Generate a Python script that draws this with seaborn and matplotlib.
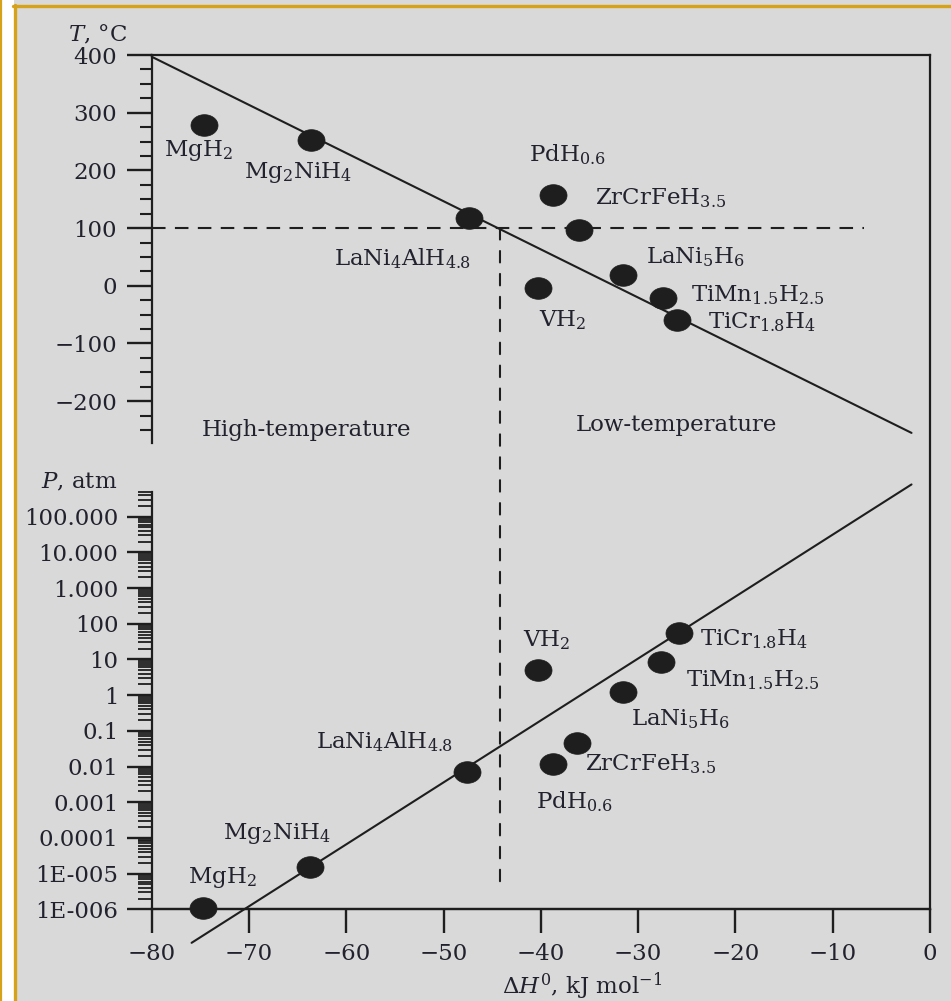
import numpy as np
import matplotlib
matplotlib.use("Agg")
import matplotlib.pyplot as plt
from matplotlib.path import Path
from matplotlib.patches import ConnectionPatch
from matplotlib.lines import Line2D
from matplotlib.ticker import (MultipleLocator, FixedLocator, FixedFormatter,
                               LogLocator, NullFormatter, NullLocator)
import seaborn as sns

# ---------------------------------------------------------------- data
hydrides = ["MgH$_2$", "Mg$_2$NiH$_4$", "LaNi$_4$AlH$_{4.8}$", "PdH$_{0.6}$",
            "ZrCrFeH$_{3.5}$", "LaNi$_5$H$_6$", "TiMn$_{1.5}$H$_{2.5}$",
            "TiCr$_{1.8}$H$_4$", "VH$_2$"]

# enthalpy of formation (kJ/mol) and temperature for 1 atm (deg C)
dH_T = [-74.6, -63.6, -47.4, -38.7, -36.1, -31.6, -27.4, -26.0, -40.3]
T_eq = [279, 253, 117, 157, 97, 19, -22, -60, -3]

# enthalpy of formation (kJ/mol) and equilibrium pressure at 25 deg C (atm)
dH_P = [-74.7, -63.7, -47.6, -38.7, -36.3, -31.6, -27.7, -25.8, -40.3]
P_eq = [1.07e-6, 1.5e-5, 0.0071, 0.0115, 0.045, 1.25, 8.6, 54.0, 5.0]

# trend lines
trend_dH_T = [-80.0, -1.9]
trend_T = [397.0, -255.0]
trend_dH_P = [-75.9, -1.9]
trend_P = [1.15e-7, 8.0e5]

# boundary between high- and low-temperature hydrides
boundary_T = 100.0
boundary_dH = -44.2
boundary_dH_end = -6.8
boundary_P_end = 4.8e-6

T_ticks = [-200, -100, 0, 100, 200, 300, 400]
P_ticks = [1e-6, 1e-5, 1e-4, 1e-3, 1e-2, 1e-1, 1, 10, 100, 1e3, 1e4, 1e5]
P_ticklabels = ["1E-006", "1E-005", "0.0001", "0.001", "0.01", "0.1", "1",
                "10", "100", "1.000", "10.000", "100.000"]
dH_ticks = [-80, -70, -60, -50, -40, -30, -20, -10, 0]

# label placement (pixel offsets from each point)
top_offsets = [(-40, -26, "left"), (-67, -33, "left"), (2, -40, "right"),
               (-24, 40, "left"), (16, 32, "left"), (23, 18, "left"),
               (28, 3, "left"), (31, -2, "left"), (1, -33, "left")]
bot_offsets = [(-15, 31, "left"), (-87, 34, "left"), (-14, 30, "right"),
               (-17, -37, "left"), (8, -21, "left"), (8, -28, "left"),
               (25, -18, "left"), (21, -6, "left"), (-15, 30, "left")]

# ---------------------------------------------------------------- style
BG = "#d9d9d9"
INK = "#1e1e1e"
TXT = "#22222e"
GOLD = "#d6a21a"
FS = 16.5

sns.set_theme(style="ticks")
plt.rcParams.update({
    "font.family": ["DejaVu Serif"],
    "mathtext.fontset": "dejavuserif",
    "axes.unicode_minus": True,
    "text.color": TXT,
    "xtick.color": INK,
    "ytick.color": INK,
    "xtick.labelcolor": TXT,
    "ytick.labelcolor": TXT,
    "axes.edgecolor": INK,
    "axes.linewidth": 1.6,
})

W, H = 951, 1001
fig = plt.figure(figsize=(W / 100, H / 100), dpi=100, facecolor=BG)

# page decoration: white margin strip and gold frame lines
strip = fig.add_axes([0, 0, 14 / W, 1], zorder=-1)
strip.set_facecolor("white")
strip.set_xticks([])
strip.set_yticks([])
for s in strip.spines.values():
    s.set_visible(False)
fig.add_artist(Line2D([1.2 / W, 1.2 / W], [0, 1], transform=fig.transFigure,
                      color=GOLD, lw=1.6, zorder=1))
fig.add_artist(Line2D([14.5 / W, 14.5 / W], [0, 1 - 4.5 / H],
                      transform=fig.transFigure, color=GOLD, lw=2.4, zorder=1))
fig.add_artist(Line2D([13.3 / W, 1], [1 - 5.5 / H, 1 - 5.5 / H],
                      transform=fig.transFigure, color=GOLD, lw=2.4, zorder=1))

x0, x1 = 151.7 / W, 930 / W
top_y0, top_y1 = 1 - 442.7 / H, 1 - 55 / H
bot_y0, bot_y1 = 1 - 909.3 / H, 1 - 491.7 / H

# outer box shared by both panels
frame = fig.add_axes([x0, bot_y0, x1 - x0, top_y1 - bot_y0], zorder=0)
frame.set_facecolor("none")
frame.set_xticks([])
frame.set_yticks([])
frame.spines["left"].set_visible(False)
for s in ("top", "right", "bottom"):
    frame.spines[s].set_visible(True)
    frame.spines[s].set_linewidth(1.6)

ax_t = fig.add_axes([x0, top_y0, x1 - x0, top_y1 - top_y0], zorder=2)
ax_p = fig.add_axes([x0, bot_y0, x1 - x0, bot_y1 - bot_y0], zorder=2)
for ax in (ax_t, ax_p):
    ax.set_facecolor("none")
    ax.set_xlim(-80, 0)
    for s in ("top", "right", "bottom"):
        ax.spines[s].set_visible(False)
    ax.spines["left"].set_visible(True)
    ax.spines["left"].set_linewidth(1.6)

ax_p.spines["bottom"].set_visible(True)
ax_p.spines["bottom"].set_linewidth(1.6)

theta = np.linspace(0, 2 * np.pi, 60)
ellipse = Path(np.column_stack([np.cos(theta), 0.8 * np.sin(theta)]),
               closed=True)

# ---------------------------------------------------------------- top: T
ax_t.set_ylim(-272, 400)
sns.lineplot(x=trend_dH_T, y=trend_T, ax=ax_t, color=INK, lw=1.5,
             sort=False, clip_on=False)
ax_t.plot([-80, boundary_dH_end], [boundary_T, boundary_T], color=INK,
          lw=1.5, ls=(0, (6.5, 4.5)))
sns.scatterplot(x=dH_T, y=T_eq, ax=ax_t, marker=ellipse, s=380,
                color=INK, edgecolor=INK, linewidth=0.5, zorder=5)
for name, xv, yv, (dx, dy, ha) in zip(hydrides, dH_T, T_eq, top_offsets):
    ax_t.annotate(name, (xv, yv), xytext=(dx, dy), textcoords="offset pixels",
                  ha=ha, va="center", fontsize=FS, color=TXT)
ax_t.text(-64.1, -250, "High-temperature", ha="center", va="center",
          fontsize=FS, color=TXT)
ax_t.text(-26.1, -241.5, "Low-temperature", ha="center", va="center",
          fontsize=FS, color=TXT)

ax_t.yaxis.set_major_locator(FixedLocator(T_ticks))
ax_t.yaxis.set_minor_locator(MultipleLocator(25))
ax_t.tick_params(axis="y", which="both", left=True, right=False)
ax_t.tick_params(axis="y", which="major", direction="out", length=18,
                 width=1.7, pad=7, labelsize=FS)
ax_t.tick_params(axis="y", which="minor", direction="out", length=8.5,
                 width=1.5)
ax_t.tick_params(axis="x", which="both", bottom=False, top=False,
                 labelbottom=False)
ax_t.set_xlabel("")
ax_t.set_ylabel("")

# ---------------------------------------------------------------- bottom: P
ax_p.set_yscale("log")
ax_p.set_ylim(1e-6, 10 ** 5.7)
sns.lineplot(x=trend_dH_P, y=trend_P, ax=ax_p, color=INK, lw=1.5,
             sort=False, clip_on=False)
sns.scatterplot(x=dH_P, y=P_eq, ax=ax_p, marker=ellipse, s=380,
                color=INK, edgecolor=INK, linewidth=0.5, zorder=5,
                clip_on=False)
for name, xv, yv, (dx, dy, ha) in zip(hydrides, dH_P, P_eq, bot_offsets):
    ax_p.annotate(name, (xv, yv), xytext=(dx, dy), textcoords="offset pixels",
                  ha=ha, va="center", fontsize=FS, color=TXT)

ax_p.yaxis.set_major_locator(FixedLocator(P_ticks))
ax_p.yaxis.set_major_formatter(FixedFormatter(P_ticklabels))
ax_p.yaxis.set_minor_locator(LogLocator(base=10, subs=np.arange(2, 10),
                                        numticks=100))
ax_p.yaxis.set_minor_formatter(NullFormatter())
ax_p.tick_params(axis="y", which="both", left=True, right=False)
ax_p.tick_params(axis="y", which="major", direction="out", length=18,
                 width=1.7, pad=6, labelsize=FS)
ax_p.tick_params(axis="y", which="minor", direction="out", length=10,
                 width=1.3)
ax_p.xaxis.set_major_locator(FixedLocator(dH_ticks))
ax_p.xaxis.set_minor_locator(NullLocator())
ax_p.tick_params(axis="x", which="major", bottom=True, top=False,
                 direction="out", length=17, width=1.7, pad=7, labelsize=FS)
ax_p.set_xlabel("")
ax_p.set_ylabel("")

# boundary line running through both panels
fig.add_artist(ConnectionPatch(xyA=(boundary_dH, boundary_T), coordsA=ax_t.transData,
                               xyB=(boundary_dH, boundary_P_end), coordsB=ax_p.transData,
                               arrowstyle="-", color=INK, lw=1.5,
                               ls=(0, (5.5, 5.5)), zorder=3))

# axis titles
fig.text(127 / W, 1 - 35 / H, r"$T$, °C", ha="right", va="center",
         fontsize=FS, color=TXT)
fig.text(117 / W, 1 - 482 / H, r"$P$, atm", ha="right", va="center",
         fontsize=FS, color=TXT)
fig.text(582 / W, 1 - 986 / H, r"$\Delta H^0$, kJ mol$^{-1}$", ha="center",
         va="center", fontsize=FS, color=TXT)

fig.savefig("out.png", dpi=100, facecolor=BG)
